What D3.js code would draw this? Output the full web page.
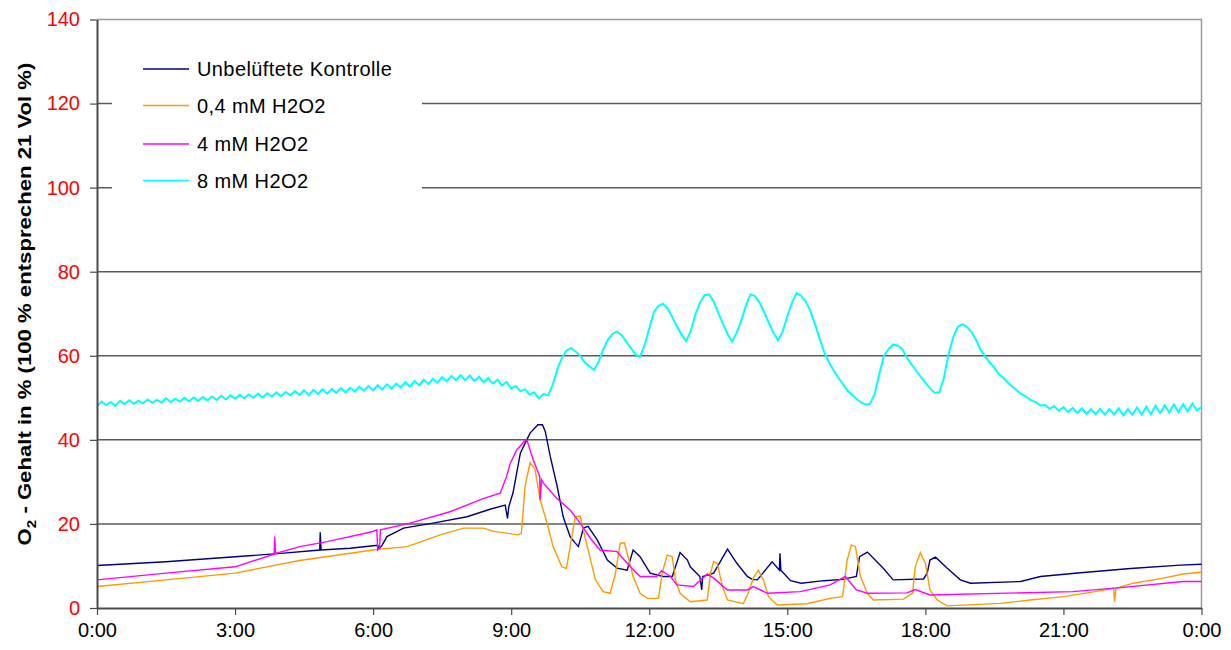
<!DOCTYPE html>
<html>
<head>
<meta charset="utf-8">
<script src="https://cdn.jsdelivr.net/npm/d3@7"></script>
<style>
  body { margin: 0; background: #fff; }
  svg { display: block; }
  text { font-family: "Liberation Sans", Arial, sans-serif; }
</style>
</head>
<body>
<svg id="chart" width="1231" height="650"></svg>
<script>
// ---- data: O2 content over one day (hours since 0:00, percent) ----
const seriesNames = ["Unbelüftete Kontrolle", "0,4 mM H2O2", "4 mM H2O2", "8 mM H2O2"];
const seriesColors = ["#000080", "#FF9900", "#FF00FF", "#00FFFF"];

const controlData = [
  [0, 10.1], [0.3, 10.3], [1.5, 11.0], [3.0, 12.2], [4.0, 13.0], [4.84, 13.8], [4.85, 18.0], [4.87, 13.8],
  [5.5, 14.2], [6.0, 14.8], [6.1, 14.9], [6.13, 14.0], [6.2, 15.0], [6.3, 17.0], [6.66, 19.0], [7.3, 20.2],
  [8.04, 21.7], [8.54, 23.5], [8.87, 24.5], [8.92, 21.3], [8.95, 24.2], [9.04, 27.4], [9.2, 36.9], [9.41, 41.6],
  [9.58, 43.6], [9.68, 43.6], [9.74, 42.0], [9.85, 36.0], [10.0, 28.9], [10.13, 21.7], [10.28, 17.0],
  [10.39, 15.5], [10.46, 14.6], [10.57, 19.0], [10.67, 19.4], [10.87, 16.2], [11.09, 11.4], [11.3, 9.5],
  [11.52, 9.0], [11.65, 13.8], [11.8, 12.2], [12.02, 8.3], [12.3, 7.5], [12.5, 7.5], [12.67, 13.2],
  [12.83, 11.4], [12.89, 9.8], [13.1, 7.5], [13.14, 4.3], [13.16, 7.5], [13.4, 8.3], [13.7, 14.0],
  [13.9, 10.7], [14.13, 7.5], [14.24, 6.8], [14.35, 6.7], [14.67, 11.0], [14.83, 9.0], [14.84, 13.0],
  [14.86, 9.0], [15.07, 6.5], [15.3, 5.9], [15.8, 6.5], [16.2, 6.8], [16.5, 7.5], [16.57, 12.2],
  [16.74, 13.3], [17.09, 9.4], [17.3, 6.7], [17.96, 6.9], [18.04, 8.3], [18.1, 11.4], [18.22, 12.1],
  [18.47, 9.5], [18.76, 6.7], [18.98, 5.9], [20.07, 6.3], [20.5, 7.5], [21.37, 8.4], [22.46, 9.4],
  [23.54, 10.2], [24, 10.4]
];

const lowDoseData = [
  [0, 5.1], [1.5, 6.7], [3.0, 8.3], [4.4, 11.3], [6.0, 13.8], [6.15, 14.0], [6.74, 14.6], [7.46, 17.4],
  [7.96, 19.0], [8.4, 19.0], [8.6, 18.3], [9.15, 17.4], [9.22, 17.8], [9.24, 20.2], [9.3, 28.9], [9.41, 34.6],
  [9.52, 32.9], [9.63, 25.7], [9.78, 20.2], [9.91, 14.6], [10.1, 9.8], [10.2, 9.4], [10.28, 14.5],
  [10.39, 21.7], [10.5, 21.9], [10.6, 17.0], [10.83, 6.7], [11.0, 3.9], [11.15, 3.5], [11.26, 7.9],
  [11.37, 15.4], [11.46, 15.5], [11.54, 12.2], [11.65, 7.5], [11.8, 3.5], [11.96, 2.3], [12.2, 2.3],
  [12.28, 8.3], [12.39, 12.6], [12.5, 12.2], [12.57, 6.7], [12.67, 3.5], [12.89, 1.5], [13.26, 1.9],
  [13.33, 8.3], [13.4, 11.0], [13.48, 10.6], [13.59, 5.1], [13.7, 1.9], [14.04, 1.0], [14.15, 3.5],
  [14.26, 7.1], [14.37, 9.0], [14.48, 6.7], [14.59, 2.7], [14.78, 0.7], [15.43, 1.0], [15.93, 2.3],
  [16.2, 2.7], [16.3, 11.4], [16.39, 15.0], [16.48, 14.6], [16.59, 7.5], [16.74, 3.5], [16.87, 1.9],
  [17.52, 2.1], [17.72, 3.5], [17.78, 9.8], [17.89, 13.2], [18.0, 10.6], [18.1, 4.3], [18.26, 1.9],
  [18.47, 0.5], [19.63, 1.1], [20.28, 1.9], [21.0, 2.7], [21.52, 3.6], [22.09, 4.7], [22.11, 1.5],
  [22.14, 4.7], [22.52, 5.9], [23.17, 7.1], [23.6, 8.1], [24, 8.5]
];

const midDoseData = [
  [0, 6.7], [1.5, 8.3], [3.0, 9.8], [3.85, 12.8], [3.86, 17.0], [3.88, 13.0], [4.41, 14.6], [5.0, 15.8],
  [6.0, 18.2], [6.08, 18.6], [6.1, 13.8], [6.14, 14.3], [6.16, 18.6], [6.8, 20.2], [7.67, 22.9],
  [8.39, 26.0], [8.76, 27.3], [8.9, 31.3], [8.98, 34.4], [9.12, 37.6], [9.3, 39.8], [9.34, 40.0],
  [9.48, 35.2], [9.62, 31.3], [9.63, 25.7], [9.66, 30.5], [9.7, 29.7], [9.99, 26.1], [10.28, 23.3],
  [10.5, 20.2], [10.72, 16.6], [10.93, 13.8], [11.3, 13.4], [11.59, 9.8], [11.8, 7.5], [12.16, 7.5],
  [12.27, 8.9], [12.46, 7.5], [12.6, 5.5], [12.96, 5.1], [13.26, 8.1], [13.4, 7.1], [13.7, 4.3],
  [14.13, 4.3], [14.26, 5.1], [14.57, 3.5], [15.28, 3.9], [15.93, 5.5], [16.26, 7.5], [16.5, 4.3],
  [16.74, 3.5], [17.6, 3.6], [17.78, 4.4], [18.1, 3.1], [21.2, 3.9], [22.3, 4.9], [23.6, 6.3], [24, 6.3]
];

// high-dose probe logged every 6 minutes from 0:00
const highDoseStartHour = 0;
const highDoseStepHours = 0.1;
const highDoseValues = [
  48.0, 49.1, 48.3, 49.0, 48.1, 49.3, 48.5, 49.4, 48.6, 49.3,
  48.7, 49.6, 48.8, 49.5, 48.9, 49.9, 49.0, 49.8, 49.1, 50.0,
  49.2, 50.1, 49.3, 50.2, 49.4, 50.3, 49.5, 50.5, 49.6, 50.6,
  49.8, 50.7, 49.9, 50.8, 50.0, 51.0, 50.1, 51.1, 50.3, 51.3,
  50.4, 51.4, 50.6, 51.6, 50.7, 51.8, 50.6, 51.9, 50.9, 52.0,
  51.0, 52.1, 51.2, 52.3, 51.3, 52.4, 51.5, 52.6, 51.7, 52.8,
  51.8, 53.0, 52.0, 53.2, 52.2, 53.4, 52.5, 53.7, 52.7, 54.0,
  53.0, 54.3, 53.3, 54.5, 53.6, 54.9, 53.9, 55.2, 54.2, 55.4,
  54.2, 55.3, 54.0, 55.0, 53.7, 54.7, 53.4, 54.3, 52.9, 53.8,
  52.2, 52.8, 51.6, 52.0, 50.8, 51.3, 49.9, 50.9, 50.6, 53.0,
  56.7, 59.5, 61.2, 61.8, 61.0, 60.0, 58.4, 57.5, 56.6, 58.6,
  61.5, 63.8, 65.2, 65.8, 64.9, 63.3, 61.9, 60.3, 59.8, 62.6,
  66.5, 70.4, 71.9, 72.4, 71.2, 69.2, 67.0, 65.1, 63.5, 65.8,
  69.8, 72.6, 74.4, 74.6, 72.9, 70.2, 67.6, 65.2, 63.4, 65.5,
  68.4, 72.0, 74.6, 74.2, 72.6, 70.3, 67.8, 65.4, 63.7, 65.8,
  69.4, 72.6, 74.9, 74.3, 72.9, 70.7, 67.6, 64.2, 60.9, 58.6,
  56.6, 54.9, 53.4, 51.8, 50.8, 49.8, 48.9, 48.4, 48.6, 51.0,
  55.8, 60.0, 61.6, 62.7, 62.4, 61.6, 59.5, 57.9, 56.5, 55.0,
  53.6, 52.3, 51.2, 51.3, 54.6, 60.2, 64.3, 66.8, 67.5, 66.9,
  65.7, 63.8, 61.4, 59.8, 58.4, 57.1, 55.6, 54.7, 53.5, 52.6,
  51.6, 50.8, 50.2, 49.4, 49.0, 48.2, 48.3, 47.4, 48.0, 46.9,
  47.8, 46.6, 47.6, 46.4, 47.5, 46.2, 47.3, 46.1, 47.4, 46.0,
  47.3, 46.0, 47.5, 45.8, 47.3, 46.0, 47.7, 46.0, 47.9, 46.1,
  48.1, 46.4, 48.2, 46.5, 48.4, 46.6, 48.5, 46.8, 48.6, 47.0,
  47.8
];

const xTickHours = [0, 3, 6, 9, 12, 15, 18, 21, 24];
const xTickLabels = ["0:00", "3:00", "6:00", "9:00", "12:00", "15:00", "18:00", "21:00", "0:00"];
const yTickValues = [0, 20, 40, 60, 80, 100, 120, 140];

// ---- layout ----
const svg = d3.select("#chart");
const plot = { left: 97, right: 1201.5, top: 19.5, bottom: 608 };

const x = d3.scaleLinear().domain([0, 24]).range([plot.left, plot.right]);
const y = d3.scaleLinear().domain([0, 140]).range([plot.bottom, plot.top]);

// horizontal gridlines
svg.append("g")
  .selectAll("line")
  .data(yTickValues.filter(v => v > 0 && v < 140))
  .join("line")
  .attr("x1", plot.left).attr("x2", plot.right)
  .attr("y1", d => y(d)).attr("y2", d => y(d))
  .attr("stroke", "#5a5a5a").attr("stroke-width", 1.5);

// light frame on top and right
svg.append("path")
  .attr("d", `M${plot.left},${y(140)}H${plot.right}V${plot.bottom}`)
  .attr("fill", "none").attr("stroke", "#9a9a9a").attr("stroke-width", 1.5);

// legend background hides the gridlines behind it
const legend = svg.append("g");
legend.append("rect")
  .attr("x", 112).attr("y", 42).attr("width", 310).attr("height", 163)
  .attr("fill", "#fff");

// series
const line = d3.line().x(d => x(d[0])).y(d => y(d[1]));
const highDoseData = highDoseValues.map((v, i) => [highDoseStartHour + i * highDoseStepHours, v]);
const allSeries = [controlData, lowDoseData, midDoseData, highDoseData];

svg.append("g")
  .selectAll("path")
  .data(allSeries)
  .join("path")
  .attr("d", line)
  .attr("fill", "none")
  .attr("stroke", (d, i) => seriesColors[i])
  .attr("stroke-width", (d, i) => i === 3 ? 2 : 1.4)
  .attr("stroke-linejoin", "miter");

// axes
const yAxis = svg.append("g")
  .attr("transform", `translate(${plot.left},0)`)
  .call(d3.axisLeft(y).tickValues(yTickValues).tickSize(7).tickPadding(10).tickSizeOuter(0));
yAxis.select(".domain").attr("stroke", "#4a4a4a").attr("stroke-width", 2);
yAxis.selectAll(".tick line").attr("stroke", "#4a4a4a").attr("stroke-width", 1.2);
yAxis.selectAll(".tick text")
  .attr("fill", "#FF0000").attr("font-size", 20)
  .attr("font-family", "'Liberation Sans', Arial, sans-serif");

const xAxis = svg.append("g")
  .attr("transform", `translate(0,${plot.bottom})`)
  .call(d3.axisBottom(x).tickValues(xTickHours).tickSize(7).tickPadding(8).tickSizeOuter(0)
    .tickFormat((d, i) => xTickLabels[i]));
xAxis.select(".domain").attr("stroke", "#4a4a4a").attr("stroke-width", 2);
xAxis.selectAll(".tick line").attr("stroke", "#4a4a4a").attr("stroke-width", 1.2);
xAxis.selectAll(".tick text")
  .attr("fill", "#000").attr("font-size", 20)
  .attr("font-family", "'Liberation Sans', Arial, sans-serif");

// y axis title with subscript, stretched to span the axis height
const titleLength = 483;
const title = svg.append("text")
  .attr("text-anchor", "middle")
  .attr("font-size", 19).attr("font-weight", "bold").attr("fill", "#000");
title.append("tspan").text("O");
title.append("tspan").attr("font-size", 13).attr("dy", 5).text("2");
title.append("tspan").attr("dy", -5).text(" - Gehalt in % (100 % entsprechen 21 Vol %)");
const rawLength = title.node().getComputedTextLength();
title.attr("transform", `translate(31,304) rotate(-90) scale(${titleLength / rawLength},1)`);

// legend entries
const rowY = [69, 105.5, 144, 180.5];
seriesNames.forEach((name, i) => {
  legend.append("line")
    .attr("x1", 143).attr("x2", 189)
    .attr("y1", rowY[i]).attr("y2", rowY[i])
    .attr("stroke", seriesColors[i]).attr("stroke-width", 1.5);
  legend.append("text")
    .attr("x", 197).attr("y", rowY[i] + 7)
    .attr("font-size", 20).attr("letter-spacing", 0.4).attr("fill", "#000")
    .text(name);
});
</script>
</body>
</html>
